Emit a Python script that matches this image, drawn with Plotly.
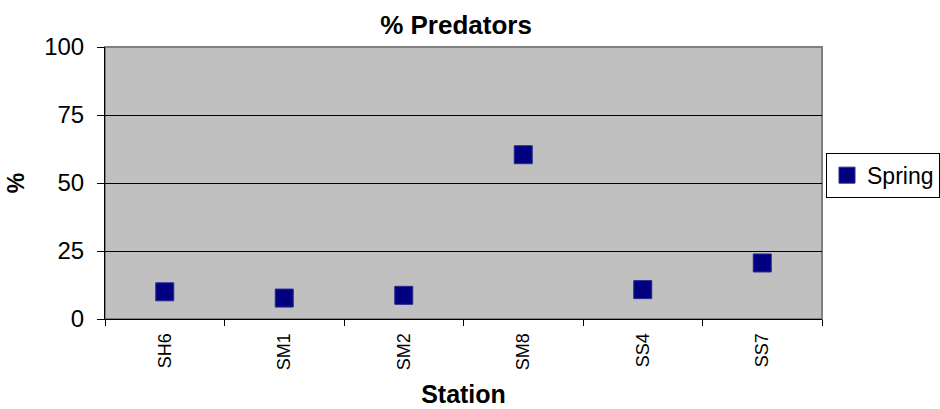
import plotly.graph_objects as go

stations = ["SH6", "SM1", "SM2", "SM8", "SS4", "SS7"]
spring = [10.0, 7.7, 8.7, 60.4, 10.8, 20.6]
y_ticks = [0, 25, 50, 75, 100]

FONT = "Arial, Liberation Sans, sans-serif"

fig = go.Figure()
fig.add_trace(go.Scatter(
    x=stations, y=spring, mode="markers", name="Spring",
    marker=dict(symbol="square", size=18, color="#000080",
                line=dict(color="#2a2a8a", width=1)),
))

fig.update_layout(
    width=940, height=409,
    margin=dict(l=105, r=118, t=47, b=90, autoexpand=False),
    paper_bgcolor="white",
    plot_bgcolor="#C0C0C0",
    title=dict(text="% Predators", x=456/940, xref="container",
               y=1 - 25/409, yref="container", xanchor="center", yanchor="middle",
               font=dict(family=FONT, size=26, color="black", weight="bold")),
    showlegend=True,
    legend=dict(x=(826-105)/717, y=(319.3-153)/272, xanchor="left", yanchor="top",
                bgcolor="white", bordercolor="black", borderwidth=1,
                font=dict(family=FONT, size=23, color="black"),
                itemwidth=30),
    font=dict(family=FONT, color="black"),
)

fig.update_xaxes(
    type="category", categoryorder="array", categoryarray=stations,
    range=[-0.5, len(stations) - 0.5],
    tickson="boundaries", ticks="outside", ticklen=6, tickcolor="black",
    tickangle=-90, tickfont=dict(family=FONT, size=18, color="black"),
    ticklabelstandoff=6,
    showgrid=False, showline=True, linecolor="black", linewidth=1,
    title=dict(text="Station", font=dict(family=FONT, size=25, color="black", weight="bold"),
               standoff=16),
    zeroline=False,
)
fig.update_yaxes(
    range=[0, 100], tickvals=y_ticks, ticktext=[str(v) for v in y_ticks],
    ticks="outside", ticklen=7, tickcolor="black",
    tickfont=dict(family=FONT, size=24, color="black"),
    showgrid=True, gridcolor="black", gridwidth=1,
    showline=True, linecolor="black", linewidth=1, zeroline=False,
    ticklabelstandoff=8,
    title=dict(text="%", font=dict(family=FONT, size=23, color="black", weight="bold"),
               standoff=13),
)

# plot-area border (Excel style grey frame)
fig.add_shape(type="rect", xref="paper", yref="paper", x0=0, x1=1, y0=0, y1=1,
              line=dict(color="#808080", width=2), layer="below")

fig.write_html("out.html")
